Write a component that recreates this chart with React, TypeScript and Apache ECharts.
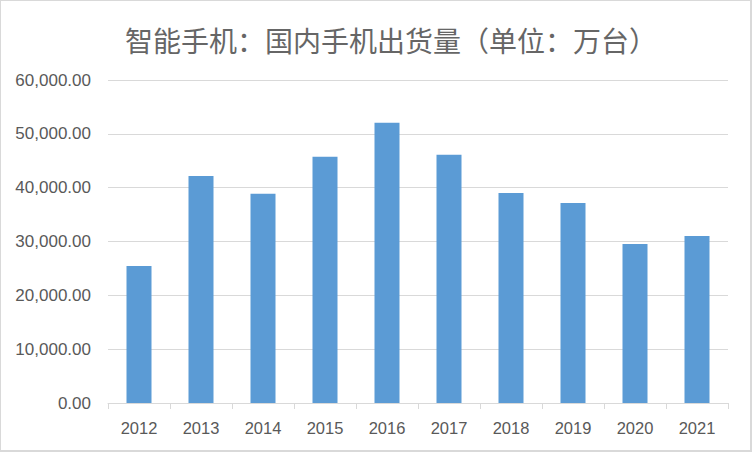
import React, { useEffect, useRef } from "react";
import * as echarts from "echarts";

const years = ["2012", "2013", "2014", "2015", "2016", "2017", "2018", "2019", "2020", "2021"];
const shipments = [25460, 42190, 38850, 45720, 52040, 46100, 39030, 37170, 29550, 31040];
const titleText = "智能手机：国内手机出货量（单位：万台）";

export default function App() {
  const ref = useRef<HTMLDivElement>(null);
  useEffect(() => {
    document.body.style.margin = "0";
    const chart = echarts.init(ref.current!, null, { renderer: "svg" });
    chart.setOption({
      animation: false,
      backgroundColor: "#ffffff",
      title: {
        text: titleText,
        left: 386,
        textAlign: "center",
        top: 21,
        textStyle: {
          fontFamily: "Noto Sans CJK SC",
          fontSize: 28,
          fontWeight: "normal",
          color: "#666666",
        },
      },
      grid: { left: 108, right: 24, top: 80, bottom: 49, containLabel: false },
      xAxis: {
        type: "category",
        data: years,
        axisLine: { lineStyle: { color: "#d9d9d9", width: 1 } },
        axisTick: { show: true, length: 6, lineStyle: { color: "#d9d9d9" } },
        axisLabel: {
          color: "#595959",
          fontFamily: "Liberation Sans",
          fontSize: 16.5,
          margin: 16,
        },
      },
      yAxis: {
        type: "value",
        min: 0,
        max: 60000,
        interval: 10000,
        axisLine: { show: false },
        axisTick: { show: false },
        splitLine: { lineStyle: { color: "#d9d9d9", width: 1 } },
        axisLabel: {
          color: "#595959",
          fontFamily: "Liberation Sans",
          fontSize: 17,
          margin: 17,
          formatter: (v: number) =>
            v.toLocaleString("en-US", { minimumFractionDigits: 2, maximumFractionDigits: 2 }),
        },
      },
      series: [
        {
          type: "bar",
          data: shipments,
          barWidth: 25,
          itemStyle: { color: "#5b9bd5" },
        },
      ],
    });
    return () => chart.dispose();
  }, []);
  return (
    <div style={{ position: "relative", width: 752, height: 452 }}>
      <div ref={ref} style={{ width: 752, height: 452 }} />
      <div
        style={{
          position: "absolute",
          left: 0,
          top: 0,
          width: 752,
          height: 452,
          boxSizing: "border-box",
          borderTop: "1px solid #d9d9d9",
          borderLeft: "1px solid #d9d9d9",
          borderRight: "2px solid #d9d9d9",
          borderBottom: "2px solid #d9d9d9",
          pointerEvents: "none",
        }}
      />
    </div>
  );
}
